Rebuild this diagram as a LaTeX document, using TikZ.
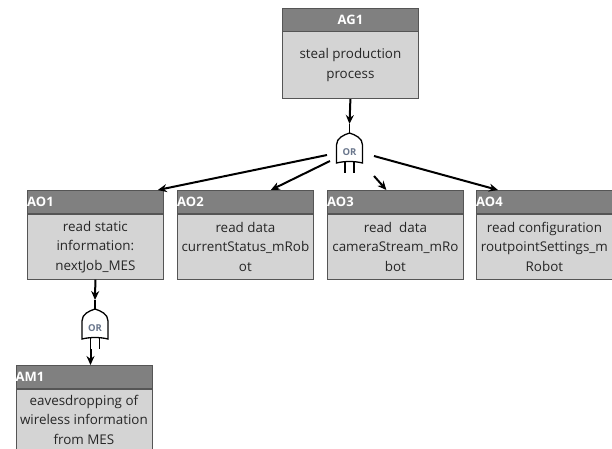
\documentclass[tikz,border=0pt]{standalone}
\usepackage{fontspec}
\setmainfont{Open Sans}
\usetikzlibrary{arrows.meta}

\definecolor{hdrgray}{RGB}{128,128,128}
\definecolor{boxgray}{RGB}{212,212,212}
\definecolor{edgegray}{RGB}{85,85,85}
\definecolor{orgray}{RGB}{105,118,140}

\tikzset{
  hdr/.style={draw=edgegray, fill=hdrgray, line width=0.8pt, minimum width=136pt, minimum height=23pt, inner sep=0pt, anchor=north west},
  body/.style={draw=edgegray, fill=boxgray, line width=0.8pt, minimum width=136pt, inner sep=0pt, anchor=north west, align=center, text=black!85, font=\fontsize{13.4}{19.5}\selectfont},
  hlbl/.style={text=white, font=\bfseries\fontsize{13}{14}\selectfont, inner sep=0pt},
  conn/.style={line width=2pt, -{Stealth[length=9pt,width=8pt]}},
  orgate/.pic={
    \draw[line width=1.3pt, fill=white] (-13,30) -- (-13,12) .. controls (-13,5) and (-6,2) .. (0,0) .. controls (6,2) and (13,5) .. (13,12) -- (13,30) .. controls (5,28) and (-5,28) .. (-13,30) -- cycle;
    \draw[line width=1.3pt] (0,0) -- (0,-9);
    \draw[line width=1.6pt] (-4.5,29) -- (-4.5,40) (4.5,29) -- (4.5,40);
    \coordinate (-in) at (0,-9);
    \coordinate (-out) at (-4.5,40);
    \node[text=orgray, font=\bfseries\fontsize{9.5}{9.5}\selectfont, inner sep=0pt] (-lbl) at (0,19) {OR};
  }
}

\begin{document}
\begin{tikzpicture}[x=1pt, y=-1pt]
\clip (0,0) rectangle (612,448);

% goal
\node[hdr] (AG1h) at (282,7.5) {};
\node[hlbl] (AG1l) at (AG1h) {AG1};
\node[body, minimum height=67pt] (AG1) at (AG1h.south west) {steal production\\process};

% first or-gate
\pic (g1) at (349.5,133) {orgate};
\coordinate (s1) at (327,155);
\coordinate (s2) at (330,161);
\coordinate (s3) at (374,176);
\coordinate (s4) at (374,156);

% objectives
\node[hdr] (AO1h) at (27,190) {};
\node[hlbl, anchor=west] (AO1l) at (AO1h.west) {AO1};
\node[body, minimum height=65pt] (AO1) at (AO1h.south west) {read static\\information:\\nextJob\_MES};

\node[hdr] (AO2h) at (177,190) {};
\node[hlbl, anchor=west] (AO2l) at (AO2h.west) {AO2};
\node[body, minimum height=65pt] (AO2) at (AO2h.south west) {read data\\currentStatus\_mRob\\ot};

\node[hdr] (AO3h) at (327,190) {};
\node[hlbl, anchor=west] (AO3l) at (AO3h.west) {AO3};
\node[body, minimum height=65pt] (AO3) at (AO3h.south west) {read\ \ data\\cameraStream\_mRo\\bot};

\node[hdr] (AO4h) at (476,190) {};
\node[hlbl, anchor=west] (AO4l) at (AO4h.west) {AO4};
\node[body, minimum height=65pt] (AO4) at (AO4h.south west) {read configuration\\routpointSettings\_m\\Robot};

% second or-gate
\pic (g2) at (95,309) {orgate};

% method
\node[hdr] (AM1h) at (15.5,365) {};
\node[hlbl, anchor=west] (AM1l) at (AM1h.west) {AM1};
\node[body, minimum height=61pt] (AM1) at (AM1h.south west) {eavesdropping of\\wireless information\\from MES};

% connectors
\draw[conn] (AG1.south) -- (g1-in);
\draw[conn] (s1) -- ([xshift=-6pt]AO1h.north east);
\draw[conn] (s2) -- ([xshift=-43pt]AO2h.north east);
\draw[conn] (s3) -- ([xshift=-9pt]AO3h.north);
\draw[conn] (s4) -- ([xshift=22pt]AO4h.north west);
\draw[conn] (AO1.south) -- (g2-in);
\draw[conn] (g2-out) -- (g2-out |- AM1h.north);
\end{tikzpicture}
\end{document}
